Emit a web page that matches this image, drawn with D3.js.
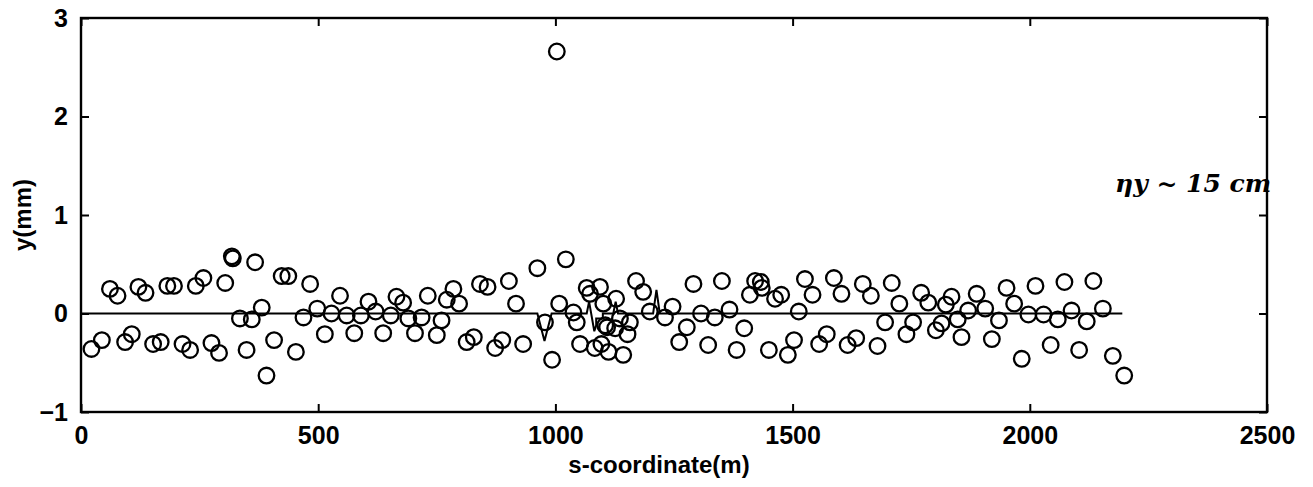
<!DOCTYPE html>
<html><head><meta charset="utf-8">
<script src="https://cdn.jsdelivr.net/npm/d3@7/dist/d3.min.js"></script>
<style>
body{margin:0;background:#fff;}
svg{display:block;font-family:"Liberation Sans",Arial,Helvetica,sans-serif;}
</style></head>
<body><svg id="c" width="1313" height="487"></svg>
<script>
// ---- data ----
const sCoord = [22,44,61,77,93,107,121,136,152,168,182,196,214,230,242,258,275,291,304,318,320,335,349,360,367,381,391,407,423,437,453,469,483,498,514,528,546,560,576,590,606,621,637,653,665,679,690,704,718,731,750,760,771,785,797,813,828,841,857,873,888,902,917,932,962,978,993,1003,1008,1022,1038,1045,1052,1066,1073,1083,1094,1097,1101,1105,1109,1112,1126,1128,1136,1143,1152,1157,1170,1185,1199,1231,1247,1261,1277,1291,1307,1322,1336,1351,1367,1382,1398,1410,1421,1433,1435,1450,1463,1476,1490,1503,1513,1526,1542,1556,1572,1587,1603,1616,1634,1648,1665,1679,1695,1709,1725,1740,1754,1771,1786,1802,1814,1823,1835,1848,1856,1870,1888,1906,1920,1935,1951,1967,1983,1997,2012,2029,2044,2059,2073,2088,2104,2120,2134,2154,2175,2199];
const yVal = [-0.36,-0.27,0.25,0.18,-0.29,-0.21,0.27,0.21,-0.31,-0.29,0.28,0.28,-0.31,-0.37,0.28,0.36,-0.30,-0.40,0.31,0.58,0.56,-0.05,-0.37,-0.06,0.52,0.06,-0.63,-0.27,0.38,0.38,-0.39,-0.04,0.30,0.05,-0.21,0.00,0.18,-0.02,-0.20,-0.02,0.12,0.02,-0.20,-0.02,0.17,0.11,-0.05,-0.20,-0.04,0.18,-0.22,-0.07,0.14,0.25,0.10,-0.29,-0.24,0.30,0.27,-0.35,-0.27,0.33,0.10,-0.31,0.46,-0.09,-0.47,2.66,0.10,0.55,0.01,-0.09,-0.31,0.26,0.20,-0.35,0.27,-0.31,0.10,-0.12,-0.14,-0.39,-0.15,0.15,-0.05,-0.42,-0.21,-0.09,0.33,0.22,0.02,-0.04,0.07,-0.29,-0.14,0.30,0.00,-0.32,-0.04,0.33,0.04,-0.37,-0.15,0.19,0.33,0.32,0.26,-0.37,0.15,0.19,-0.42,-0.27,0.02,0.35,0.19,-0.31,-0.21,0.36,0.20,-0.32,-0.25,0.30,0.18,-0.33,-0.09,0.31,0.10,-0.21,-0.09,0.21,0.11,-0.17,-0.10,0.09,0.17,-0.06,-0.24,0.03,0.20,0.05,-0.26,-0.07,0.26,0.10,-0.46,-0.01,0.28,-0.01,-0.32,-0.06,0.32,0.03,-0.37,-0.08,0.33,0.05,-0.43,-0.63];
// reference line (zero orbit trace, with its glitches)
const lineS = [0,962,977,992,1066,1071,1082,1086,1086,1100,1100,1122,1127,1132,1206,1213,1220,2195];
const lineY = [0,0,-0.28,0,0,0.12,-0.18,-0.12,-0.05,-0.05,0,0,0.12,0,0,0.24,0,0];
const xTicks = [0,500,1000,1500,2000,2500];
const yTicks = [-1,0,1,2,3];
const xLabel = "s-coordinate(m)";
const yLabel = "y(mm)";
const note = "ηy ~ 15 cm";

// ---- layout ----
const W = 1313, H = 487;
const m = {l:81, r:46, t:18, b:75};
const svg = d3.select("#c");
const x = d3.scaleLinear().domain([0,2500]).range([m.l, W - m.r]);
const y = d3.scaleLinear().domain([-1,3]).range([H - m.b, m.t]);
const tickLen = 8;

const g = svg.append("g");

const fontTick = "bold 25px 'Liberation Sans', Arial, sans-serif";
const axB = g.append("g").attr("transform",`translate(0,${y(-1)})`)
  .call(d3.axisBottom(x).tickValues(xTicks).tickSize(-tickLen).tickPadding(14).tickFormat(d3.format("d")));
const axT = g.append("g").attr("transform",`translate(0,${y(3)})`)
  .call(d3.axisTop(x).tickValues(xTicks).tickSize(-tickLen).tickFormat(""));
const axL = g.append("g").attr("transform",`translate(${x(0)},0)`)
  .call(d3.axisLeft(y).tickValues(yTicks).tickSize(-tickLen).tickPadding(13).tickFormat(d => d < 0 ? "\u2212" + Math.abs(d) : d));
const axR = g.append("g").attr("transform",`translate(${x(2500)},0)`)
  .call(d3.axisRight(y).tickValues(yTicks).tickSize(-tickLen).tickFormat(""));
[axB,axT,axL,axR].forEach(a=>{
  a.select(".domain").remove();
  a.selectAll(".tick line").attr("stroke","#000").attr("stroke-width",2);
  a.selectAll("text").style("font", fontTick).attr("fill","#000");
});

// frame
g.append("rect").attr("x",x(0)).attr("y",y(3)).attr("width",x(2500)-x(0)).attr("height",y(-1)-y(3))
  .attr("fill","none").attr("stroke","#000").attr("stroke-width",2.4);

// reference line
const pts = lineS.map((s,i)=>[s,lineY[i]]);
g.append("path").datum(pts)
  .attr("d", d3.line().x(d=>x(d[0])).y(d=>y(d[1])))
  .attr("fill","none").attr("stroke","#000").attr("stroke-width",2);

// circles
g.append("g").selectAll("circle").data(sCoord.map((s,i)=>[s,yVal[i]])).join("circle")
  .attr("cx",d=>x(d[0])).attr("cy",d=>y(d[1])).attr("r",7.8)
  .attr("fill","none").attr("stroke","#000").attr("stroke-width",2.3);

// axis labels
svg.append("text").attr("x",659).attr("y",H-14).attr("text-anchor","middle")
  .style("font","bold 24px 'Liberation Sans', Arial, sans-serif").text(xLabel);
svg.append("text").attr("transform",`translate(31,${(y(3)+y(-1))/2}) rotate(-90)`).attr("text-anchor","middle")
  .style("font","bold 24px 'Liberation Sans', Arial, sans-serif").text(yLabel);

// handwritten note
svg.append("text").attr("x",1115).attr("y",192)
  .style("font","italic bold 25px 'DejaVu Serif', serif").text(note);
</script></body></html>
